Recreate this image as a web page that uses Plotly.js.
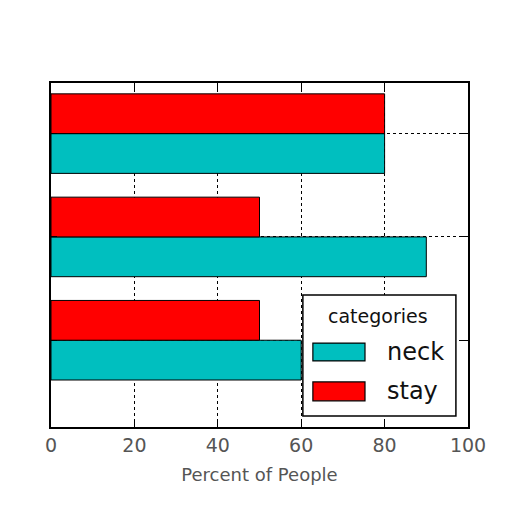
<!DOCTYPE html>
<html>
<head>
<meta charset="utf-8">
<script src="https://cdn.plot.ly/plotly-3.0.1.min.js"></script>
<style>
	body { margin: 0; background: white; }
	#chart { width: 512px; height: 512px; }
</style>
</head>
<body>
<div id="chart"></div>
<script>
// rows from bottom to top (labels are hidden in the chart)
const rows = ["row 1", "row 2", "row 3"]
const neck = [60, 90, 80]
const stay = [50, 50, 80]
const xTicks = [0, 20, 40, 60, 80, 100]

const neckColor = "#00bfbf"
const stayColor = "#ff0000"

var traces = [
	{
		type: "bar",
		orientation: "h",
		name: "neck",
		y: rows,
		x: neck,
		marker: { color: neckColor, line: { color: "#000000", width: 1 } }
	},
	{
		type: "bar",
		orientation: "h",
		name: "stay",
		y: rows,
		x: stay,
		marker: { color: stayColor, line: { color: "#000000", width: 1 } }
	}
]

// matplotlib-style legend box (wide swatches), built in paper coords
var legendShapes = [
	{ type: "rect", xref: "paper", yref: "paper", x0: 0.604, x1: 0.971, y0: 0.032, y1: 0.384,
		fillcolor: "white", line: { color: "#000", width: 1.5 }, layer: "above" }
]
var legendNotes = [
	{ xref: "paper", yref: "paper", x: 0.785, y: 0.323, text: "categories", showarrow: false,
		xanchor: "center", yanchor: "middle", font: { size: 19, color: "#111" } }
]
var swatchY = [[0.192, 0.244], [0.076, 0.131]]
traces.forEach(function (t, i) {
	legendShapes.push({ type: "rect", xref: "paper", yref: "paper", x0: 0.628, x1: 0.753,
		y0: swatchY[i][0], y1: swatchY[i][1], fillcolor: t.marker.color,
		line: { color: "#000", width: 1.2 }, layer: "above" })
	legendNotes.push({ xref: "paper", yref: "paper", x: 0.8, y: (swatchY[i][0] + swatchY[i][1]) / 2,
		text: t.name, showarrow: false, xanchor: "left", yanchor: "middle",
		font: { size: 24, color: "#111" } })
})

var layout = {
	width: 512,
	height: 512,
	margin: { l: 51, r: 44, t: 83, b: 85, pad: 0 },
	paper_bgcolor: "white",
	plot_bgcolor: "white",
	font: { family: "DejaVu Sans, sans-serif", color: "#000" },
	barmode: "group",
	bargap: 0.23,
	bargroupgap: 0,
	showlegend: false,
	shapes: legendShapes,
	annotations: legendNotes,
	xaxis: {
		range: [0, 100],
		tickvals: xTicks,
		ticktext: xTicks.map(String),
		ticks: "inside",
		ticklen: 6,
		tickcolor: "#000",
		tickfont: { size: 19, color: "#555" },
		showline: true,
		linecolor: "#000",
		linewidth: 1.5,
		mirror: "ticks",
		showgrid: true,
		gridcolor: "#000",
		griddash: "dot",
		gridwidth: 1,
		zeroline: false,
		title: { text: "Percent of People", font: { size: 18, color: "#555" }, standoff: 14 }
	},
	yaxis: {
		type: "category",
		range: [-0.84, 2.49],
		showticklabels: false,
		ticks: "inside",
		ticklen: 6,
		tickcolor: "#000",
		showline: true,
		linecolor: "#000",
		linewidth: 1.5,
		mirror: "ticks",
		showgrid: true,
		gridcolor: "#000",
		griddash: "dot",
		gridwidth: 1,
		zeroline: false
	}
}

Plotly.newPlot("chart", traces, layout, { displayModeBar: false })
</script>
</body>
</html>
